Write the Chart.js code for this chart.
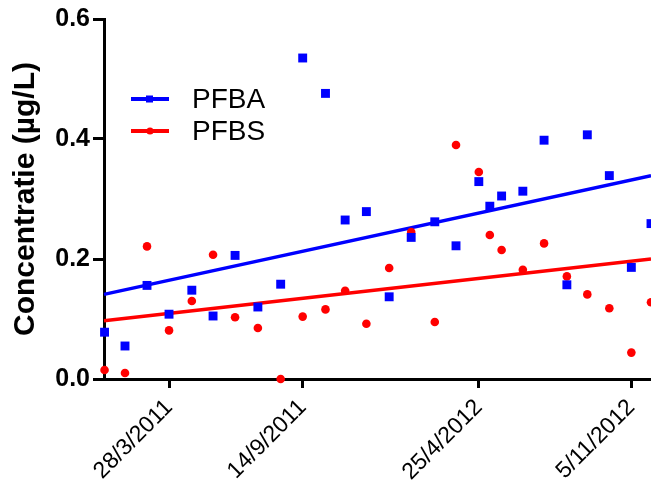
<!DOCTYPE html>
<html>
<head>
<meta charset="utf-8">
<script src="https://cdn.jsdelivr.net/npm/chart.js@4.4.0/dist/chart.umd.min.js"></script>
<style>
    html, body { margin: 0; padding: 0; background: #fff; }
    #wrap { width: 651px; height: 482px; }
</style>
</head>
<body>
<div id="wrap"><canvas id="chart" width="651" height="482"></canvas></div>
<script>
// Sampling dates (both compounds measured on the same days)
const sampleDates = [
    '2011-01-05', '2011-01-31', '2011-02-28', '2011-03-28', '2011-04-26', '2011-05-23',
    '2011-06-20', '2011-07-19', '2011-08-17', '2011-09-14', '2011-10-13', '2011-11-07',
    '2011-12-04', '2012-01-02', '2012-01-30', '2012-02-29', '2012-03-27', '2012-04-25',
    '2012-05-09', '2012-05-24', '2012-06-20', '2012-07-17', '2012-08-15', '2012-09-10',
    '2012-10-08', '2012-11-05', '2012-11-30'
];
const pfbaValues = [
    0.078, 0.055, 0.156, 0.108, 0.148, 0.105, 0.206, 0.120, 0.158, 0.535, 0.476, 0.265,
    0.279, 0.137, 0.236, 0.262, 0.222, 0.329, 0.288, 0.305, 0.313, 0.398, 0.157, 0.407,
    0.339, 0.186, 0.259
];
const pfbsValues = [
    0.015, 0.010, 0.221, 0.081, 0.130, 0.207, 0.103, 0.085, 0.000, 0.104, 0.116, 0.147,
    0.092, 0.185, 0.245, 0.095, 0.390, 0.345, 0.240, 0.215, 0.182, 0.226, 0.171, 0.141,
    0.118, 0.044, 0.128
];
// Fitted trend lines: value at axis start and axis end
const pfbaTrend = [0.141, 0.339];
const pfbsTrend = [0.097, 0.200];

const axisStart = '2011-01-05';
const axisEnd = '2012-11-30';
const tickDates = ['2011-03-28', '2011-09-14', '2012-04-25', '2012-11-05'];
const tickLabels = ['28/3/2011', '14/9/2011', '25/4/2012', '5/11/2012'];
const yTicks = [0, 0.2, 0.4, 0.6];

const FONT = '"Liberation Sans", Arial, Helvetica, sans-serif';
const origin = Date.UTC(2011, 2, 28);
function dayOf(str) {
    const p = str.split('-').map(Number);
    return (Date.UTC(p[0], p[1] - 1, p[2]) - origin) / 86400000;
}

const xMin = dayOf(axisStart) - 0.7;
const xMax = dayOf(axisEnd);
const tickDays = tickDates.map(dayOf);

const pfbaPoints = sampleDates.map((d, i) => ({ x: dayOf(d), y: pfbaValues[i] }));
const pfbsPoints = sampleDates.map((d, i) => ({ x: dayOf(d), y: pfbsValues[i] }));

// Legend drawn inside the plot, line with marker like the original
const legendPlugin = {
    id: 'insideLegend',
    afterDraw(chart) {
        const ctx = chart.ctx;
        const items = chart.data.datasets.filter(ds => ds.label);
        items.forEach((ds, i) => {
            const y = 99 + i * 32;
            ctx.save();
            ctx.strokeStyle = ds.borderColor;
            ctx.lineWidth = 4;
            ctx.beginPath();
            ctx.moveTo(131, y);
            ctx.lineTo(169, y);
            ctx.stroke();
            ctx.fillStyle = ds.backgroundColor;
            if (ds.pointStyle === 'rect') {
                ctx.fillRect(146, y - 3.5, 7, 7);
            } else {
                ctx.beginPath();
                ctx.arc(150, y, 3.6, 0, Math.PI * 2);
                ctx.fill();
            }
            ctx.fillStyle = '#000';
            ctx.font = '28px ' + FONT;
            ctx.textBaseline = 'middle';
            ctx.fillText(ds.label, 192, y + 1);
            ctx.restore();
        });
    }
};

new Chart(document.getElementById('chart'), {
    type: 'scatter',
    data: {
        datasets: [
            {
                label: 'PFBA',
                data: pfbaPoints,
                pointStyle: 'rect',
                pointRadius: 6.3,
                pointHoverRadius: 6.3,
                backgroundColor: '#0000ff',
                borderColor: '#0000ff',
                borderWidth: 0,
                clip: false,
                order: 1
            },
            {
                label: 'PFBS',
                data: pfbsPoints,
                pointStyle: 'circle',
                pointRadius: 4.3,
                pointHoverRadius: 4.3,
                backgroundColor: '#ff0000',
                borderColor: '#ff0000',
                borderWidth: 0,
                clip: false,
                order: 2
            },
            {
                type: 'line',
                data: [{ x: xMin, y: pfbaTrend[0] }, { x: xMax, y: pfbaTrend[1] }],
                borderColor: '#0000ff',
                borderWidth: 3.5,
                pointRadius: 0,
                fill: false,
                clip: false,
                order: 3
            },
            {
                type: 'line',
                data: [{ x: xMin, y: pfbsTrend[0] }, { x: xMax, y: pfbsTrend[1] }],
                borderColor: '#ff0000',
                borderWidth: 3.5,
                pointRadius: 0,
                fill: false,
                clip: false,
                order: 4
            }
        ]
    },
    options: {
        responsive: false,
        animation: false,
        layout: { autoPadding: false, padding: { top: 19, left: 0, right: 0, bottom: 0 } },
        plugins: {
            legend: { display: false },
            tooltip: { enabled: false }
        },
        scales: {
            x: {
                type: 'linear',
                min: xMin,
                max: xMax,
                afterBuildTicks: (scale) => {
                    scale.ticks = tickDays.map(v => ({ value: v }));
                },
                afterFit: (scale) => {
                    scale.height = 103;
                    scale.paddingLeft = 0;
                    scale.paddingRight = 0;
                },
                ticks: {
                    autoSkip: false,
                    minRotation: 45,
                    maxRotation: 45,
                    padding: 6,
                    color: '#000',
                    font: { family: FONT, size: 23 },
                    callback: (value) => {
                        const idx = tickDays.indexOf(value);
                        return idx >= 0 ? tickLabels[idx] : '';
                    }
                },
                grid: {
                    display: true,
                    drawOnChartArea: false,
                    drawTicks: true,
                    tickLength: 9,
                    tickWidth: 3,
                    tickColor: '#000'
                },
                border: { display: true, color: '#000', width: 3 }
            },
            y: {
                min: 0,
                max: 0.6,
                afterBuildTicks: (scale) => {
                    scale.ticks = yTicks.map(v => ({ value: v }));
                },
                afterFit: (scale) => {
                    scale.width = 104;
                },
                ticks: {
                    padding: 3,
                    color: '#000',
                    font: { family: FONT, size: 25, weight: 'bold' },
                    callback: (value) => value.toFixed(1)
                },
                grid: {
                    display: true,
                    drawOnChartArea: false,
                    drawTicks: true,
                    tickLength: 11,
                    tickWidth: 3,
                    tickColor: '#000'
                },
                border: { display: true, color: '#000', width: 3 },
                title: {
                    display: true,
                    text: 'Concentratie (µg/L)',
                    color: '#000',
                    font: { family: FONT, size: 30, weight: 'bold' },
                    padding: { top: 8, bottom: 0 }
                }
            }
        }
    },
    plugins: [legendPlugin]
});
</script>
</body>
</html>
